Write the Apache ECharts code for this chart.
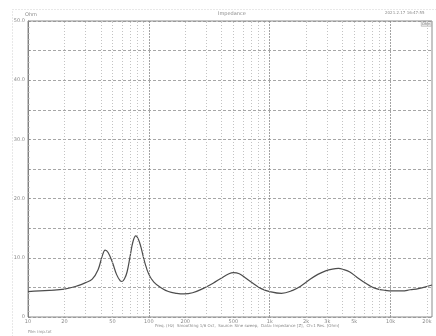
<!DOCTYPE html>
<html>
<head>
<meta charset="utf-8">
<script src="https://cdn.jsdelivr.net/npm/echarts@6/dist/echarts.min.js"></script>
<style>
  html, body { margin: 0; padding: 0; background: #fff; }
  #chart { width: 436px; height: 336px; }
</style>
</head>
<body>
<div id="chart"></div>
<script>
// impedance curve (Hz, Ohm)
var freq = [10, 15, 20, 26, 30, 34, 38, 41, 43.5, 46, 50, 54, 58, 60, 63, 66, 70, 74, 78, 82, 86, 92,
  100, 110, 125, 145, 170, 195, 230, 280, 340, 400, 460, 500, 560, 640, 750, 850,
  1000, 1250, 1550, 1800, 2100, 2500, 2900, 3300, 3700, 4100, 4600, 5200, 5900, 6700, 7600, 9000,
  10500, 12500, 14500, 17000, 19500, 22000];
var ohm = [4.3, 4.5, 4.7, 5.3, 5.8, 6.4, 8.0, 10.2, 11.3, 10.9, 9.2, 7.2, 6.1, 6.0, 6.5, 7.6, 10.3, 12.8, 13.7, 13.1, 11.8, 9.4,
  7.2, 5.9, 5.0, 4.3, 4.0, 3.9, 4.1, 4.8, 5.7, 6.6, 7.3, 7.5, 7.3, 6.5, 5.5, 4.8,
  4.3, 4.0, 4.5, 5.2, 6.2, 7.2, 7.8, 8.1, 8.2, 8.0, 7.6, 6.8, 6.0, 5.3, 4.8, 4.5,
  4.4, 4.4, 4.6, 4.8, 5.1, 5.4];

// log grid lines between decades
var gridFreqs = [20, 30, 40, 50, 60, 70, 80, 90,
  200, 300, 400, 500, 600, 700, 800, 900,
  2000, 3000, 4000, 5000, 6000, 7000, 8000, 9000,
  20000];
var decadeFreqs = [100, 1000, 10000];
var tickFreqs = [10, 20, 50, 100, 200, 500, 1000, 2000, 3000, 5000, 10000, 20000];
var tickLabels = ['10', '20', '50', '100', '200', '500', '1k', '2k', '3k', '5k', '10k', '20k'];
var yLabels = [0, 10, 20, 30, 40, 50];

var chart = echarts.init(document.getElementById('chart'));
var txt = '#8a8a8a';
var fnt = 'DejaVu Sans';

var lines = [];
gridFreqs.forEach(function(f){
  lines.push({ xAxis: f, lineStyle: { color: '#b4b4b4', type: [1, 2], width: 0.8 }, label: { show: false } });
});
decadeFreqs.forEach(function(f){
  lines.push({ xAxis: f, lineStyle: { color: '#8c8c8c', type: [2, 1], width: 0.8 }, label: { show: false } });
});
tickFreqs.forEach(function(f, i){
  lines.push({ xAxis: f, lineStyle: { color: 'rgba(255,255,255,0)', width: 0.1 },
    label: { show: true, position: 'start', formatter: tickLabels[i], distance: 2,
      color: txt, fontSize: 5, fontFamily: fnt } });
});

var option = {
  animation: false,
  backgroundColor: '#fff',
  grid: { left: 28, right: 4, top: 21, bottom: 19, show: true, borderColor: '#6e6e6e', borderWidth: 0.8 },
  xAxis: {
    type: 'log', logBase: 10, min: 10, max: 22000,
    axisLine: { show: false }, axisTick: { show: false }, axisLabel: { show: false },
    splitLine: { show: false }
  },
  yAxis: {
    type: 'value', min: 0, max: 50, interval: 5,
    axisLine: { show: true, lineStyle: { color: '#6e6e6e', width: 0.8 } },
    axisTick: { show: true, inside: true, length: 2, lineStyle: { color: '#8a8a8a' } },
    minorTick: { show: true, splitNumber: 5, length: 1.5, lineStyle: { color: '#aaa' } },
    axisLabel: {
      color: txt, fontSize: 5, fontFamily: fnt, margin: 3,
      formatter: function(v){ return yLabels.indexOf(v) < 0 ? '' : (v === 0 ? '0' : v.toFixed(1)); }
    },
    splitLine: { show: true, lineStyle: { color: '#8f8f8f', type: [3, 2], width: 0.8 } }
  },
  series: [{
    type: 'line',
    data: freq.map(function(f, i){ return [f, ohm[i]]; }),
    smooth: 0.4,
    showSymbol: false,
    lineStyle: { color: '#4d4d4d', width: 1.2 },
    markLine: { silent: true, symbol: 'none', animation: false, data: lines },
    z: 3
  }],
  graphic: [
    { type: 'rect', left: 10, top: 7, shape: { width: 430, height: 335 },
      style: { fill: 'none', stroke: '#c4c4c4', lineWidth: 0.8, lineDash: [1, 2] } },
    { type: 'text', left: 25, top: 12, style: { text: 'Ohm', fill: txt, font: '5px ' + fnt } },
    { type: 'text', left: 218, top: 11, style: { text: 'Impedance', fill: txt, font: '5px ' + fnt } },
    { type: 'text', left: 385, top: 11, style: { text: '2021.2.17 16:47:55', fill: txt, font: '4px ' + fnt } },
    { type: 'rect', left: 421, top: 21, shape: { width: 10, height: 5 },
      style: { fill: '#eee', stroke: '#999', lineWidth: 0.5 } },
    { type: 'text', left: 422, top: 22, style: { text: 'Ohm', fill: '#777', font: '3.5px ' + fnt } },
    { type: 'text', left: 155, top: 324, style: { text: 'Freq. (Hz)  Smoothing 1/6 Oct,  Source: Sine sweep,  Data: Impedance [Z],  Ch:1 Res. [Ohm]',
      fill: txt, font: '4px ' + fnt } },
    { type: 'text', left: 28, top: 330, style: { text: 'File: imp.txt', fill: txt, font: '4px ' + fnt } }
  ]
};
chart.setOption(option);
</script>
</body>
</html>
